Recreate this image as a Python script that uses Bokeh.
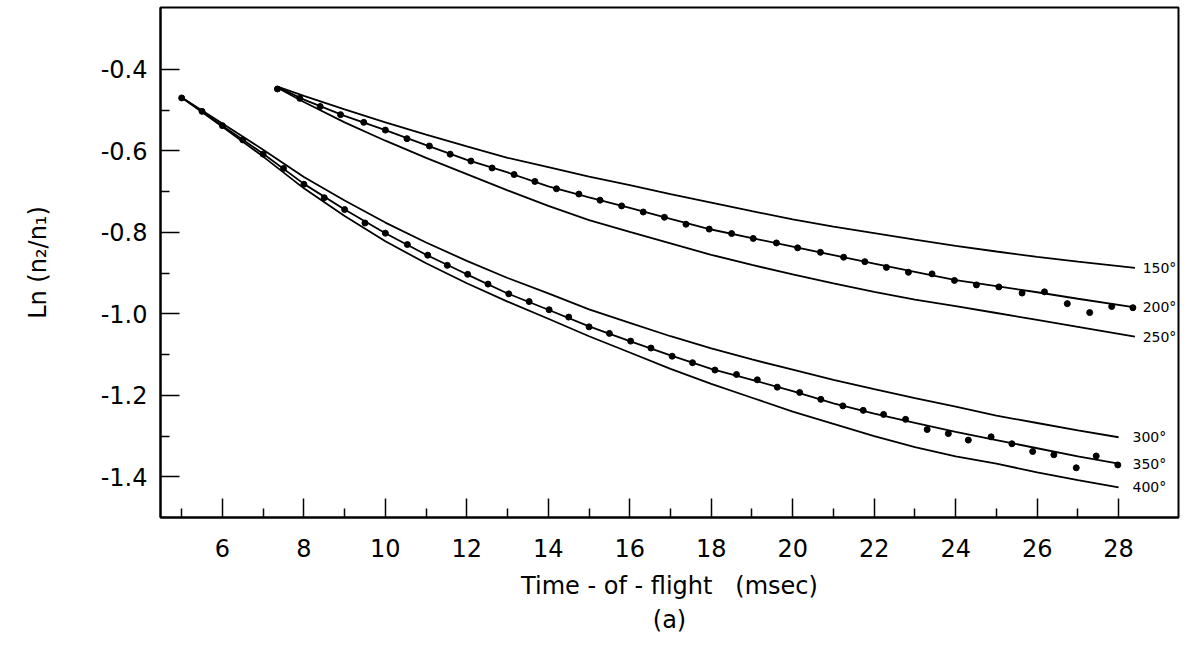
from bokeh.plotting import figure
from bokeh.models import FixedTicker, CustomJSTickFormatter, Title
from bokeh.core.properties import value
from bokeh.embed import file_html
from bokeh.resources import INLINE

FONT = "DejaVu Sans"

# ---- data ----
# lower family of curves (300, 350, 400 deg)
t_low = [5, 6, 7, 8, 9, 10, 11, 12, 13, 14, 15, 16, 17, 18, 19, 20, 21, 22, 23, 24, 25, 26, 27, 28]
y_300 = [-0.469, -0.533, -0.597, -0.664, -0.722, -0.776, -0.825, -0.870, -0.912, -0.950, -0.989, -1.022,
         -1.055, -1.085, -1.112, -1.137, -1.162, -1.185, -1.207, -1.228, -1.250, -1.268, -1.286, -1.303]
y_350 = [-0.469, -0.538, -0.607, -0.681, -0.744, -0.802, -0.855, -0.903, -0.950, -0.990, -1.031, -1.067,
         -1.102, -1.135, -1.162, -1.190, -1.220, -1.245, -1.268, -1.290, -1.310, -1.330, -1.350, -1.368]
y_400 = [-0.469, -0.541, -0.614, -0.692, -0.760, -0.822, -0.876, -0.925, -0.970, -1.012, -1.055, -1.095,
         -1.135, -1.172, -1.206, -1.240, -1.270, -1.300, -1.327, -1.350, -1.368, -1.389, -1.408, -1.426]

# upper family of curves (150, 200, 250 deg)
t_up = [7.35, 8, 9, 10, 11, 12, 13, 14, 15, 16, 17, 18, 19, 20, 21, 22, 23, 24, 25, 26, 27, 28.4]
y_150 = [-0.442, -0.465, -0.498, -0.530, -0.560, -0.589, -0.617, -0.640, -0.663, -0.684, -0.706,
         -0.727, -0.748, -0.768, -0.786, -0.802, -0.818, -0.833, -0.847, -0.860, -0.872, -0.887]
y_200 = [-0.443, -0.474, -0.514, -0.549, -0.586, -0.622, -0.653, -0.687, -0.714, -0.740, -0.767,
         -0.793, -0.814, -0.835, -0.856, -0.877, -0.897, -0.917, -0.932, -0.947, -0.963, -0.984]
y_250 = [-0.445, -0.480, -0.530, -0.575, -0.617, -0.657, -0.697, -0.735, -0.770, -0.799, -0.827,
         -0.855, -0.880, -0.903, -0.925, -0.946, -0.965, -0.981, -0.998, -1.015, -1.032, -1.056]

# measured points
pts_low_t = [5.0, 5.5, 6.0, 6.5, 7.0, 7.5, 8.0, 8.5, 9.0, 9.5, 10.0,
             10.54, 11.04, 11.52, 12.02, 12.52, 13.03, 13.53, 14.02, 14.5, 15.0,
             15.5, 16.02, 16.52, 17.04, 17.54, 18.09, 18.62, 19.13, 19.62, 20.17,
             20.69, 21.23, 21.73, 22.23, 22.77, 23.3, 23.82, 24.31, 24.87, 25.38,
             25.89, 26.41, 26.96, 27.45, 27.98]
pts_low_y = [-0.470, -0.503, -0.538, -0.573, -0.608, -0.643, -0.682, -0.715, -0.744, -0.777, -0.802,
             -0.830, -0.856, -0.881, -0.903, -0.927, -0.951, -0.970, -0.990, -1.008, -1.032,
             -1.048, -1.067, -1.084, -1.104, -1.120, -1.138, -1.149, -1.162, -1.180, -1.193,
             -1.210, -1.226, -1.237, -1.247, -1.259, -1.284, -1.294, -1.310, -1.302, -1.319,
             -1.338, -1.346, -1.378, -1.349, -1.371]

pts_up_t = [7.35, 7.90, 8.40, 8.90, 9.47, 10.00, 10.53, 11.08, 11.59, 12.10, 12.62, 13.16, 13.67,
            14.20, 14.75, 15.27, 15.80, 16.33, 16.85, 17.38, 17.95, 18.50, 19.03, 19.60, 20.12,
            20.68, 21.25, 21.77, 22.30, 22.84, 23.42, 23.97, 24.51, 25.06, 25.63, 26.18, 26.74,
            27.29, 27.83, 28.35]
pts_up_y = [-0.448, -0.471, -0.491, -0.511, -0.530, -0.549, -0.570, -0.588, -0.608, -0.625, -0.642,
            -0.658, -0.675, -0.693, -0.706, -0.721, -0.735, -0.750, -0.763, -0.780, -0.792, -0.803,
            -0.815, -0.826, -0.838, -0.849, -0.861, -0.872, -0.886, -0.898, -0.902, -0.918, -0.929,
            -0.934, -0.949, -0.946, -0.975, -0.997, -0.982, -0.985]

curve_labels = ["150°", "200°", "250°", "300°", "350°", "400°"]
label_x = [28.59, 28.59, 28.59, 28.34, 28.34, 28.34]
label_y = [-0.888, -0.984, -1.057, -1.303, -1.368, -1.426]

y_major = [-1.4, -1.2, -1.0, -0.8, -0.6, -0.4]
y_minor = [-1.3, -1.1, -0.9, -0.7, -0.5]
x_major = [6, 8, 10, 12, 14, 16, 18, 20, 22, 24, 26, 28]
x_minor = [5, 7, 9, 11, 13, 15, 17, 19, 21, 23, 25, 27]

# ---- figure ----
p = figure(width=1184, height=653, x_range=(4.48, 29.47), y_range=(-1.5, -0.248),
           output_backend="svg", toolbar_location=None,
           min_border_left=160, min_border_right=6, min_border_top=7, min_border_bottom=136)
p.background_fill_color = "white"
p.border_fill_color = "white"
p.outline_line_color = "black"
p.outline_line_width = 2
p.xgrid.visible = False
p.ygrid.visible = False

for ax in (p.xaxis[0], p.yaxis[0]):
    ax.axis_line_width = 2
    ax.axis_line_color = "black"
    ax.major_tick_in = 19
    ax.major_tick_out = 0
    ax.minor_tick_in = 9
    ax.minor_tick_out = 0
    ax.major_tick_line_width = 1.5
    ax.minor_tick_line_width = 1.5
    ax.major_label_text_font = FONT
    ax.major_label_text_font_size = "24px"
    ax.major_label_text_color = "black"
    ax.axis_label_text_font = FONT
    ax.axis_label_text_font_size = "24px"
    ax.axis_label_text_font_style = "normal"
    ax.axis_label_text_color = "black"

p.xaxis.ticker = FixedTicker(ticks=x_major, minor_ticks=x_minor)
p.yaxis.ticker = FixedTicker(ticks=y_major, minor_ticks=y_minor)
p.yaxis.formatter = CustomJSTickFormatter(code="return '-' + Math.abs(tick).toFixed(1);")
p.xaxis.major_label_standoff = 21
p.yaxis.major_label_standoff = 13
p.xaxis.axis_label = "Time - of - flight \u00a0\u00a0(msec)"
p.xaxis.axis_label_standoff = 12
p.yaxis.axis_label = "Ln (n₂/n₁)"
p.yaxis.axis_label_standoff = 46

sub = Title(text="(a)", align="center", text_font=FONT, text_font_size="24px",
            text_font_style="normal", text_color="black", standoff=2)
p.add_layout(sub, "below")

for ys in (y_300, y_350, y_400):
    p.line(t_low, ys, line_color="black", line_width=1.8)
for ys in (y_150, y_200, y_250):
    p.line(t_up, ys, line_color="black", line_width=1.8)

p.scatter(pts_low_t, pts_low_y, size=6, color="black")
p.scatter(pts_up_t, pts_up_y, size=6, color="black")

p.text(x=label_x, y=label_y, text=curve_labels, text_font=value(FONT), text_font_size="14px",
       text_baseline="middle", text_align="left", text_color="black")

open("out.html", "w").write(file_html(p, INLINE))
